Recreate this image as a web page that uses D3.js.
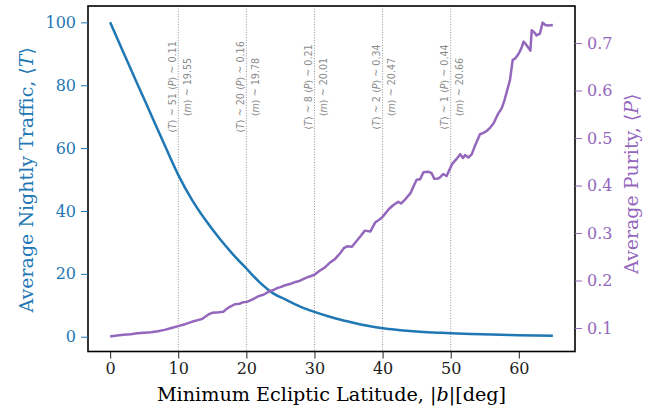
<!DOCTYPE html>
<html>
<head>
<meta charset="utf-8">
<script src="https://cdn.jsdelivr.net/npm/d3@7"></script>
<style>
  html, body { margin: 0; padding: 0; background: #fff; }
  svg { display: block; }
</style>
</head>
<body>
<svg id="chart" width="657" height="409"></svg>
<script>
// Average nightly traffic vs. minimum ecliptic latitude cut
const latT = [0, 2, 4, 6, 8, 10, 12, 14, 16, 18, 20, 22, 24, 26, 28, 30, 32, 34, 36, 38, 40, 42, 44, 46, 48, 50, 53, 56, 60, 65];
const traffic = [100, 90.2, 80.4, 70.7, 61, 51.5, 43.6, 37.1, 31.4, 26.3, 21.7, 17.2, 13.7, 11.6, 9.5, 7.9, 6.5, 5.3, 4.3, 3.4, 2.7, 2.2, 1.8, 1.5, 1.3, 1.1, 0.9, 0.7, 0.5, 0.3];

// Average purity vs. minimum ecliptic latitude cut
const latP = [0, 1, 2, 3, 4, 5, 6, 7, 8, 9, 10, 11, 12, 13, 13.5, 14, 14.5, 15, 16, 16.6, 17, 17.5, 18.3, 19, 19.5, 20.1, 21, 21.8, 22.5, 23.5, 24, 24.5, 25, 25.7, 26.5, 27.2, 27.8, 28.5, 29.2, 30, 30.8, 31.5, 32.3, 33, 33.8, 34.3, 34.8, 35.5, 36, 36.7, 37.4, 38.2, 38.9, 39.5, 40, 40.9, 41.5, 42.3, 42.7, 43.4, 44.1, 44.6, 45, 45.5, 46, 46.7, 47.2, 47.6, 48.2, 48.5, 48.9, 49.4, 50.2, 50.8, 51.4, 51.8, 52.1, 52.6, 53.1, 53.6, 54.3, 54.8, 55.3, 55.8, 56.3, 57, 57.5, 57.9, 58.3, 58.7, 59.1, 59.5, 60, 60.4, 60.7, 61, 61.3, 61.7, 61.9, 62.3, 62.6, 63.1, 63.5, 63.9, 64.3, 65];
const purity = [0.082, 0.084, 0.086, 0.087, 0.089, 0.090, 0.091, 0.093, 0.096, 0.100, 0.104, 0.108, 0.113, 0.117, 0.119, 0.124, 0.129, 0.132, 0.133, 0.134, 0.139, 0.144, 0.150, 0.151, 0.154, 0.155, 0.161, 0.167, 0.170, 0.178, 0.180, 0.184, 0.186, 0.190, 0.193, 0.197, 0.199, 0.204, 0.208, 0.212, 0.221, 0.227, 0.238, 0.245, 0.258, 0.268, 0.272, 0.271, 0.280, 0.292, 0.305, 0.303, 0.322, 0.328, 0.334, 0.350, 0.358, 0.366, 0.362, 0.372, 0.384, 0.400, 0.412, 0.413, 0.428, 0.429, 0.426, 0.414, 0.415, 0.418, 0.424, 0.420, 0.445, 0.455, 0.466, 0.458, 0.464, 0.459, 0.466, 0.485, 0.508, 0.511, 0.515, 0.522, 0.531, 0.552, 0.563, 0.580, 0.601, 0.622, 0.664, 0.668, 0.678, 0.690, 0.703, 0.698, 0.692, 0.684, 0.727, 0.722, 0.716, 0.720, 0.743, 0.738, 0.737, 0.738];

// Marked latitude cuts with summary statistics
const cuts = [10, 20, 30, 40, 50];
const cutTraffic = ["51", "20", "8", "2", "1"];
const cutPurity = ["0.11", "0.16", "0.21", "0.34", "0.44"];
const cutMag = ["19.55", "19.78", "20.01", "20.47", "20.66"];

const xTicks = [0, 10, 20, 30, 40, 50, 60];
const yTicksLeft = [0, 20, 40, 60, 80, 100];
const yTicksRight = [0.1, 0.2, 0.3, 0.4, 0.5, 0.6, 0.7];

const blue = "#1f77b4", purple = "#9467bd";
const serif = "'DejaVu Serif', serif";
const sans = "'DejaVu Sans', sans-serif";

const box = { left: 88, right: 575, top: 6, bottom: 351.5 };
const svg = d3.select("#chart");

const x = d3.scaleLinear().domain([-3.25, 68.25]).range([box.left, box.right]);
const yL = d3.scaleLinear().domain([-4.7, 105.2]).range([box.bottom, box.top]);
const yR = d3.scaleLinear().domain([0.0505, 0.778]).range([box.bottom, box.top]);

// Dotted guide lines at each cut
svg.append("g").selectAll("line").data(cuts).join("line")
  .attr("x1", d => x(d)).attr("x2", d => x(d))
  .attr("y1", box.top).attr("y2", box.bottom)
  .attr("stroke", "#888").attr("stroke-width", 0.9)
  .attr("stroke-dasharray", "1,1.6");

// Curves
const trafficLine = d3.line().x((d, i) => x(latT[i])).y(d => yL(d)).curve(d3.curveMonotoneX);
svg.append("path").datum(traffic)
  .attr("d", trafficLine).attr("fill", "none")
  .attr("stroke", blue).attr("stroke-width", 2.5).attr("stroke-linejoin", "round");

const purityLine = d3.line().x((d, i) => x(latP[i])).y(d => yR(d));
svg.append("path").datum(purity)
  .attr("d", purityLine).attr("fill", "none")
  .attr("stroke", purple).attr("stroke-width", 2.5).attr("stroke-linejoin", "round");

// Rotated two-line annotations beside each guide line
const ann = svg.append("g").attr("font-family", sans).attr("font-size", 9.6).attr("fill", "#8c8c8c");
cuts.forEach((c, i) => {
  const cx = x(c), cy = 87;
  const t1 = ann.append("text")
    .attr("transform", `translate(${cx - 2.5},${cy}) rotate(-90)`)
    .attr("text-anchor", "middle");
  t1.append("tspan").text("⟨");
  t1.append("tspan").attr("font-style", "italic").text("T");
  t1.append("tspan").text(`⟩ ~ ${cutTraffic[i]} ⟨`);
  t1.append("tspan").attr("font-style", "italic").text("P");
  t1.append("tspan").text(`⟩ ~ ${cutPurity[i]}`);
  const t2 = ann.append("text")
    .attr("transform", `translate(${cx + 12.5},${cy}) rotate(-90)`)
    .attr("text-anchor", "middle");
  t2.append("tspan").text("⟨");
  t2.append("tspan").attr("font-style", "italic").text("m");
  t2.append("tspan").text(`⟩ ~ ${cutMag[i]}`);
});

// Frame
svg.append("rect")
  .attr("x", box.left).attr("y", box.top)
  .attr("width", box.right - box.left).attr("height", box.bottom - box.top)
  .attr("fill", "none").attr("stroke", "#000").attr("stroke-width", 1.6);

// Axes
function styleAxis(g, color) {
  g.select(".domain").remove();
  g.selectAll(".tick line").attr("stroke", color).attr("stroke-width", 1);
  g.selectAll(".tick text").attr("fill", color)
    .attr("font-family", serif).attr("font-size", 16);
}

const gx = svg.append("g").attr("transform", `translate(0,${box.bottom})`)
  .call(d3.axisBottom(x).tickValues(xTicks).tickSize(7).tickPadding(4).tickFormat(d3.format("d")));
styleAxis(gx, "#222");

const gl = svg.append("g").attr("transform", `translate(${box.left},0)`)
  .call(d3.axisLeft(yL).tickValues(yTicksLeft).tickSize(7).tickPadding(5).tickFormat(d3.format("d")));
styleAxis(gl, blue);

const gr = svg.append("g").attr("transform", `translate(${box.right},0)`)
  .call(d3.axisRight(yR).tickValues(yTicksRight).tickSize(7).tickPadding(5).tickFormat(d3.format(".1f")));
styleAxis(gr, purple);

// Axis titles
const xl = svg.append("text")
  .attr("x", (box.left + box.right) / 2).attr("y", 401)
  .attr("text-anchor", "middle").attr("font-family", serif).attr("font-size", 19.2).attr("fill", "#000");
xl.append("tspan").text("Minimum Ecliptic Latitude, |");
xl.append("tspan").attr("font-style", "italic").text("b");
xl.append("tspan").text("|[deg]");

const ylL = svg.append("text")
  .attr("transform", `translate(33,${(box.top + box.bottom) / 2 + 1}) rotate(-90)`)
  .attr("text-anchor", "middle").attr("font-family", serif).attr("font-size", 19).attr("fill", blue);
ylL.append("tspan").text("Average Nightly Traffic, ⟨");
ylL.append("tspan").attr("font-style", "italic").text("T");
ylL.append("tspan").text("⟩");

const ylR = svg.append("text")
  .attr("transform", `translate(638,${(box.top + box.bottom) / 2 + 5}) rotate(-90)`)
  .attr("text-anchor", "middle").attr("font-family", serif).attr("font-size", 19).attr("fill", purple);
ylR.append("tspan").text("Average Purity, ⟨");
ylR.append("tspan").attr("font-style", "italic").text("P");
ylR.append("tspan").text("⟩");
</script>
</body>
</html>
